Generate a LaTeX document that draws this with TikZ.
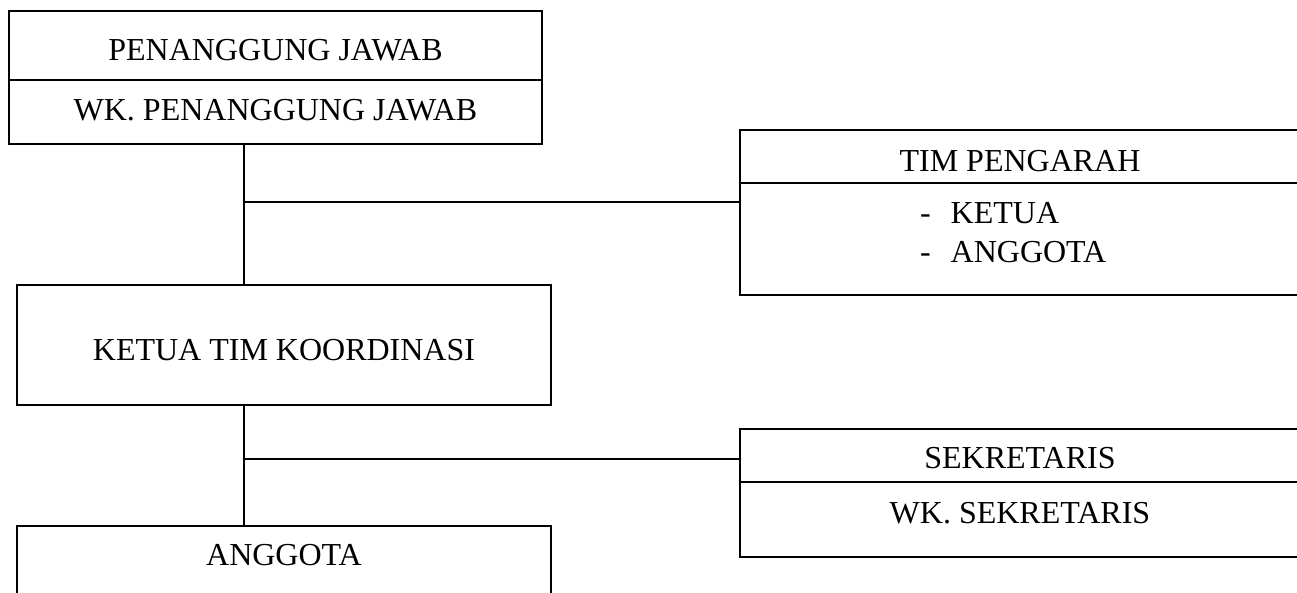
\documentclass[tikz,border=0pt]{standalone}
\usepackage{fontspec}
\setmainfont{Liberation Serif}
\begin{document}
\begin{tikzpicture}[x=0.375pt, y=-0.375pt, line join=miter, line width=0.8pt,
  font=\fontsize{12}{14.6}\selectfont,
  box/.style={draw, rectangle, inner sep=0pt},
  lbl/.style={inner sep=0pt}]
\clip (0,0) rectangle (1297,593);
% kotak kiri
\node[box, minimum width=533*0.375pt, minimum height=133*0.375pt] (pj) at (275.5,77.5) {};
\node[lbl] (pjA) at (275.5,50.5) {PENANGGUNG JAWAB};
\node[lbl] (pjB) at (275.5,110) {WK. PENANGGUNG JAWAB};
\draw (pj.west |- 0,80) -- (pj.east |- 0,80);
\node[box, minimum width=534*0.375pt, minimum height=120*0.375pt] (ktk) at (284,345) {};
\node[lbl] (ktkA) at (284,350) {KETUA TIM KOORDINASI};
\node[box, minimum width=534*0.375pt, minimum height=134*0.375pt] (agt) at (284,593) {};
\node[lbl] (agtA) at (284,555.5) {ANGGOTA};
% kotak kanan
\node[box, minimum width=560*0.375pt, minimum height=165*0.375pt] (tp) at (1020,212.5) {};
\node[lbl] (tpA) at (1020,161) {TIM PENGARAH};
\draw (tp.west |- 0,183) -- (tp.east |- 0,183);
\node[lbl, align=left, anchor=west] (tpB) at (919,233) {-\hspace{7.5pt}KETUA\\-\hspace{7.5pt}ANGGOTA};
\node[box, minimum width=560*0.375pt, minimum height=128*0.375pt] (sek) at (1020,493) {};
\node[lbl] (sekA) at (1020,458.5) {SEKRETARIS};
\node[lbl] (sekB) at (1020,513) {WK. SEKRETARIS};
\draw (sek.west |- 0,482) -- (sek.east |- 0,482);
% garis
\coordinate (j1) at (244,202);
\coordinate (j2) at (244,459);
\draw (j1 |- pj.south) -- (j1 |- ktk.north);
\draw (j1) -- (j1 -| tp.west);
\draw (j2 |- ktk.south) -- (j2 |- agt.north);
\draw (j2) -- (j2 -| sek.west);
\end{tikzpicture}
\end{document}
